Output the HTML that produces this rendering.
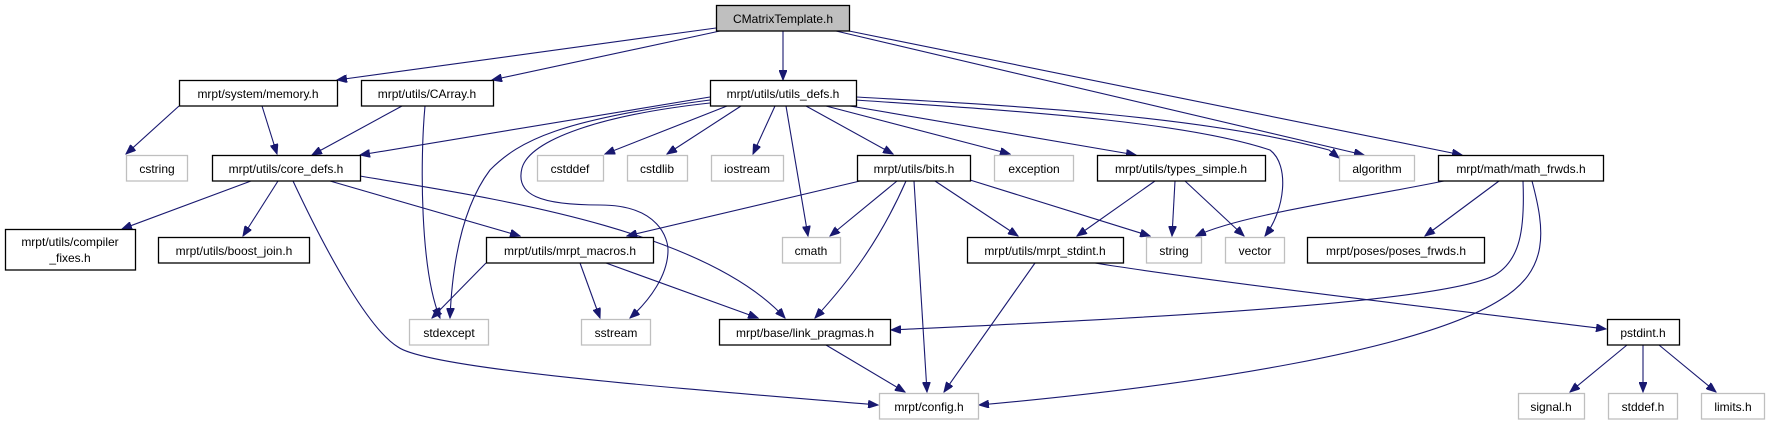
<!DOCTYPE html>
<html><head><meta charset="utf-8"><style>
html,body{margin:0;padding:0;background:#fff;}
svg{display:block;}
text{font-family:"Liberation Sans",Arial,sans-serif;font-size:12px;fill:#000;text-anchor:middle;}
.n{fill:#fff;stroke:#000;stroke-width:1.3;}
.g{fill:#fff;stroke:#bfbfbf;stroke-width:1.3;}
.e{fill:none;stroke:#191970;stroke-width:1.1;marker-end:url(#a);}
</style></head><body>
<svg width="1774" height="425" viewBox="0 0 1774 425">
<defs><marker id="a" markerWidth="11" markerHeight="8" refX="10" refY="4" orient="auto" markerUnits="userSpaceOnUse"><path d="M0,0 L10,4 L0,8 z" fill="#191970" stroke="#191970"/></marker></defs>

<!-- edges -->
<path class="e" d="M716,28 L337,80"/>
<path class="e" d="M720,31 L492,80"/>
<path class="e" d="M783,31 L783,80"/>
<path class="e" d="M836,31 L1364,155"/>
<path class="e" d="M849,31 L1462,155"/>

<path class="e" d="M710,97 L360,155"/>
<path class="e" d="M710,100 C560,120 520,140 490,170 C460,210 452,270 450,318"/>
<path class="e" d="M710,103 C600,115 530,140 522,168 C515,195 540,205 600,205 C660,205 668,240 668,250 C668,275 650,300 630,318"/>
<path class="e" d="M727,106 L605,154"/>
<path class="e" d="M741,106 L667,154"/>
<path class="e" d="M775,106 L753,154"/>
<path class="e" d="M786,106 L808,236"/>
<path class="e" d="M806,106 L893,154"/>
<path class="e" d="M826,106 L1010,154"/>
<path class="e" d="M850,106 L1136,155"/>
<path class="e" d="M856,97 C1000,105 1200,115 1329,150 L1339,158"/>
<path class="e" d="M856,100 C1000,110 1180,120 1270,150 C1290,165 1285,210 1265,236"/>

<path class="e" d="M179,106 L126,154"/>
<path class="e" d="M262,106 L277,154"/>
<path class="e" d="M402,106 L312,155"/>
<path class="e" d="M425,106 C420,160 420,270 440,318"/>

<path class="e" d="M251,181 L122,229"/>
<path class="e" d="M278,181 L243,236"/>
<path class="e" d="M330,181 L520,236"/>
<path class="e" d="M360,176 C470,195 700,225 785,318"/>
<path class="e" d="M293,181 C330,260 370,330 398,347 C430,370 700,390 878,405"/>

<path class="e" d="M486,263 L432,318"/>
<path class="e" d="M580,263 L600,318"/>
<path class="e" d="M606,263 L758,318"/>

<path class="e" d="M860,181 L627,236"/>
<path class="e" d="M897,181 L830,236"/>
<path class="e" d="M906,181 C880,240 850,280 815,318"/>
<path class="e" d="M914,181 L927,392"/>
<path class="e" d="M935,181 L1018,236"/>
<path class="e" d="M970,180 L1150,236"/>

<path class="e" d="M1155,181 L1077,236"/>
<path class="e" d="M1175,181 L1172,236"/>
<path class="e" d="M1185,181 L1244,236"/>

<path class="e" d="M1035,263 L944,392"/>
<path class="e" d="M1095,263 C1200,280 1450,310 1606,329"/>
<path class="e" d="M826,345 L905,392"/>

<path class="e" d="M1444,181 C1350,200 1240,215 1196,236"/>
<path class="e" d="M1499,181 L1425,236"/>
<path class="e" d="M1523,181 C1525,230 1520,260 1495,275 C1440,305 1100,320 891,330"/>
<path class="e" d="M1532,181 C1545,230 1550,270 1500,300 C1420,350 1200,385 979,405"/>

<path class="e" d="M1627,345 L1570,392"/>
<path class="e" d="M1643,345 L1643,392"/>
<path class="e" d="M1659,345 L1716,392"/>

<!-- nodes -->
<rect x="716.5" y="5.5" width="133" height="25.5" fill="#bfbfbf" stroke="#000" stroke-width="1.3"/><text x="783" y="23">CMatrixTemplate.h</text>

<rect class="n" x="179.5" y="80.5" width="158" height="25.5"/><text x="258" y="98">mrpt/system/memory.h</text>
<rect class="n" x="361.5" y="80.5" width="132" height="25.5"/><text x="427" y="98">mrpt/utils/CArray.h</text>
<rect class="n" x="710.5" y="80.5" width="146" height="25.5"/><text x="783" y="98">mrpt/utils/utils_defs.h</text>

<rect class="g" x="126.5" y="155.5" width="61" height="25.5"/><text x="157" y="173">cstring</text>
<rect class="n" x="212.5" y="155.5" width="148" height="25.5"/><text x="286" y="173">mrpt/utils/core_defs.h</text>
<rect class="g" x="537.5" y="155.5" width="66" height="25.5"/><text x="570" y="173">cstddef</text>
<rect class="g" x="627.5" y="155.5" width="60" height="25.5"/><text x="657" y="173">cstdlib</text>
<rect class="g" x="711.5" y="155.5" width="72" height="25.5"/><text x="747" y="173">iostream</text>
<rect class="n" x="857.5" y="155.5" width="113" height="25.5"/><text x="914" y="173">mrpt/utils/bits.h</text>
<rect class="g" x="994.5" y="155.5" width="79" height="25.5"/><text x="1034" y="173">exception</text>
<rect class="n" x="1097.5" y="155.5" width="168" height="25.5"/><text x="1181" y="173">mrpt/utils/types_simple.h</text>
<rect class="g" x="1339.5" y="155.5" width="75" height="25.5"/><text x="1377" y="173">algorithm</text>
<rect class="n" x="1438.5" y="155.5" width="165" height="25.5"/><text x="1521" y="173">mrpt/math/math_frwds.h</text>

<rect class="n" x="5.5" y="229.5" width="130" height="40.5"/><text x="70" y="246">mrpt/utils/compiler</text><text x="70" y="262">_fixes.h</text>
<rect class="n" x="158.5" y="237.5" width="151" height="25.5"/><text x="234" y="255">mrpt/utils/boost_join.h</text>
<rect class="n" x="486.5" y="237.5" width="167" height="25.5"/><text x="570" y="255">mrpt/utils/mrpt_macros.h</text>
<rect class="g" x="782.5" y="237.5" width="58" height="25.5"/><text x="811" y="255">cmath</text>
<rect class="n" x="967.5" y="237.5" width="156" height="25.5"/><text x="1045" y="255">mrpt/utils/mrpt_stdint.h</text>
<rect class="g" x="1146.5" y="237.5" width="55" height="25.5"/><text x="1174" y="255">string</text>
<rect class="g" x="1225.5" y="237.5" width="59" height="25.5"/><text x="1255" y="255">vector</text>
<rect class="n" x="1307.5" y="237.5" width="177" height="25.5"/><text x="1396" y="255">mrpt/poses/poses_frwds.h</text>

<rect class="g" x="409.5" y="319.5" width="79" height="25.5"/><text x="449" y="337">stdexcept</text>
<rect class="g" x="581.5" y="319.5" width="69" height="25.5"/><text x="616" y="337">sstream</text>
<rect class="n" x="719.5" y="319.5" width="171" height="25.5"/><text x="805" y="337">mrpt/base/link_pragmas.h</text>
<rect class="n" x="1607.5" y="319.5" width="72" height="25.5"/><text x="1643" y="337">pstdint.h</text>

<rect class="g" x="879.5" y="393.5" width="99" height="25.5"/><text x="929" y="411">mrpt/config.h</text>
<rect class="g" x="1518.5" y="393.5" width="66" height="25.5"/><text x="1551" y="411">signal.h</text>
<rect class="g" x="1608.5" y="393.5" width="69" height="25.5"/><text x="1643" y="411">stddef.h</text>
<rect class="g" x="1701.5" y="393.5" width="63" height="25.5"/><text x="1733" y="411">limits.h</text>
</svg>
</body></html>
